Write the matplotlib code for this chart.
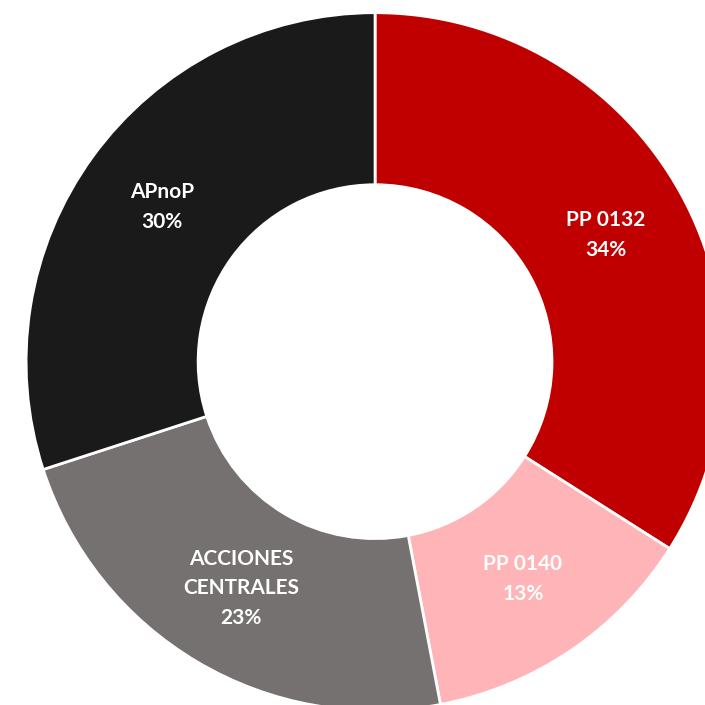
import matplotlib
matplotlib.use("Agg")
import matplotlib.pyplot as plt
import numpy as np

labels = ["PP 0132", "PP 0140", "ACCIONES\nCENTRALES", "APnoP"]
values = [34, 13, 23, 30]
colors = ["#C00000", "#FFB5B8", "#767171", "#1A1A1A"]

fig = plt.figure(figsize=(7.05, 7.05), dpi=100)
# donut is cropped on right and bottom in the reference
ax = fig.add_axes([0.037, -0.008, 0.99, 0.99])

wedges, _ = ax.pie(values, startangle=90, counterclock=False, radius=1,
                   colors=colors,
                   wedgeprops=dict(width=0.493, edgecolor="white", linewidth=2))

total = sum(values)
start = 90.0
for lab, v in zip(labels, values):
    span = 360.0 * v / total
    mid = np.deg2rad(start - span / 2)
    start -= span
    r = 0.754
    ax.text(r * np.cos(mid), r * np.sin(mid), f"{lab}\n{v}%",
            ha="center", va="center", color="white", fontsize=15,
            fontweight="bold", family="Lato", linespacing=1.6)

ax.set_xlim(-1, 1)
ax.set_ylim(-1, 1)
ax.set_aspect("equal")
ax.axis("off")

fig.savefig("out.png", dpi=100)
